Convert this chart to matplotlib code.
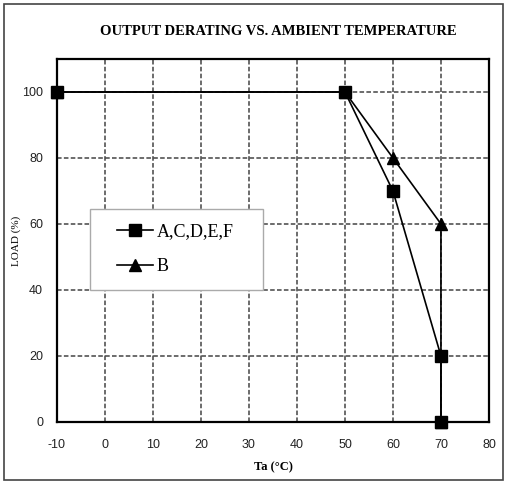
import matplotlib
matplotlib.use("Agg")
import matplotlib.pyplot as plt
from matplotlib.patches import Rectangle
from matplotlib.lines import Line2D
from matplotlib.legend_handler import HandlerLine2D

plt.rcParams["axes.unicode_minus"] = False

# Data
a_x = [-10, 50, 60, 70, 70]
a_y = [100, 100, 70, 20, 0]
b_x = [-10, 50, 60, 70, 70]
b_y = [100, 100, 80, 60, 0]
a_label = "A,C,D,E,F"
b_label = "B"
x_ticks = [-10, 0, 10, 20, 30, 40, 50, 60, 70, 80]
y_ticks = [0, 20, 40, 60, 80, 100]

fig = plt.figure(figsize=(5.07, 4.82), dpi=100)
fig.patches.append(Rectangle((0.008, 0.004), 0.984, 0.988, transform=fig.transFigure,
                             fill=False, edgecolor="#444444", linewidth=1.2))
ax = fig.add_axes([0.1124, 0.1245, 0.852, 0.7531])

ax.plot(b_x, b_y, color="black", linewidth=1.2, marker="^", markersize=8,
        label=b_label, zorder=3, clip_on=False)
ax.plot(a_x, a_y, color="black", linewidth=1.2, marker="s", markersize=9,
        label=a_label, zorder=4, clip_on=False)

ax.set_xlim(-10, 80)
ax.set_ylim(0, 110)
ax.set_xticks(x_ticks)
ax.set_yticks(y_ticks)
ax.grid(True, linestyle=(0, (3, 1.5)), color="#444444", linewidth=1.1)
for s in ax.spines.values():
    s.set_linewidth(1.6)
    s.set_color("black")
ax.tick_params(axis="x", length=0, pad=12)
ax.tick_params(axis="y", length=0, pad=10)
for lab in ax.get_xticklabels() + ax.get_yticklabels():
    lab.set_fontfamily("Liberation Sans")
    lab.set_fontsize(9)
    lab.set_color("#222222")

ax.set_xlabel("Ta (°C)", fontfamily="Liberation Serif", fontsize=9, fontweight="bold", labelpad=8)
ax.set_ylabel("LOAD (%)", fontfamily="Liberation Serif", fontsize=8)
ax.yaxis.set_label_coords(-0.083, 0.5)

fig.text(0.548, 0.935, "OUTPUT DERATING VS. AMBIENT TEMPERATURE",
         ha="center", va="center", fontfamily="Liberation Serif", fontsize=10.5,
         fontweight="bold")

handles, labels = ax.get_legend_handles_labels()
leg = ax.legend(handles[::-1], labels[::-1], loc="lower left",
                bbox_to_anchor=(0.076, 0.364, 0.40, 0.223), mode="expand",
                prop={"family": "Liberation Serif", "size": 13},
                frameon=True, fancybox=False, edgecolor="#aaaaaa",
                framealpha=1, handlelength=2.7, labelspacing=1.0,
                borderpad=0.8, borderaxespad=0, handletextpad=0.2,
                handler_map={Line2D: HandlerLine2D(xpad=0.72)})
leg.get_frame().set_linewidth(1.0)

fig.savefig("out.png", dpi=100)
